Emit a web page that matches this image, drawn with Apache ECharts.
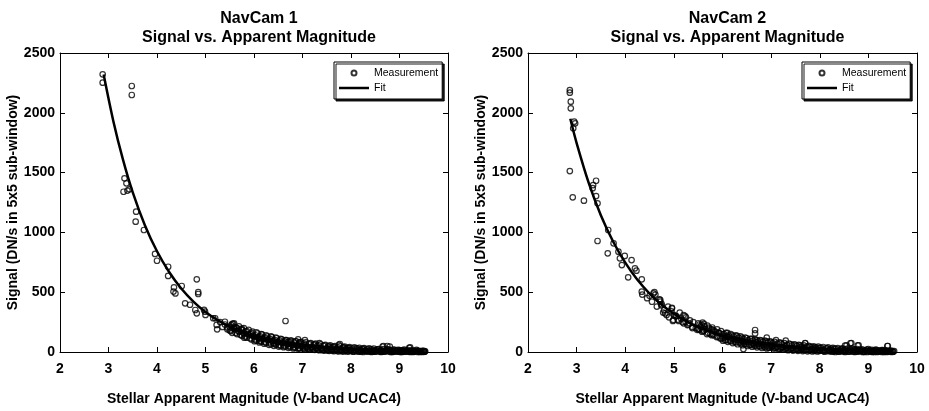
<!DOCTYPE html>
<html><head><meta charset="utf-8">
<script src="https://cdn.jsdelivr.net/npm/echarts@6/dist/echarts.min.js"></script>
<style>html,body{margin:0;padding:0;background:#fff}#c{width:929px;height:411px}</style>
</head><body><div id="c"></div>
<script>
const titles = ['NavCam 1', 'NavCam 2'];
const subtitle = 'Signal vs. Apparent Magnitude';
const xName = 'Stellar Apparent Magnitude (V-band UCAC4)';
const yName = 'Signal (DN/s in 5x5 sub-window)';
const xTicks = [2, 3, 4, 5, 6, 7, 8, 9, 10];
const yTicks = [0, 500, 1000, 1500, 2000, 2500];

// NavCam 1 fit curve
const fit1 = [[2.9,2320],[3.1,1930],[3.3,1606],[3.5,1335],[3.75,1060],[4.0,842],[4.25,669],[4.5,531],[4.75,422],[5.0,335],[5.25,267],[5.5,212],[5.75,168],[6.0,133],[6.25,106],[6.5,84],[6.75,67],[7.0,53],[7.5,33],[8.0,21],[8.5,13],[9.0,8.4],[9.5,5.3]];
// NavCam 2 fit curve
const fit2 = [[2.87,1950],[3.0,1747],[3.25,1412],[3.5,1142],[3.75,924],[4.0,747],[4.25,604],[4.5,489],[4.75,395],[5.0,320],[5.25,259],[5.5,209],[5.75,170],[6.0,137],[6.25,111],[6.5,90],[6.75,72],[7.0,58],[7.5,38],[8.0,25],[8.5,16.4],[9.0,10.7],[9.5,7]];

// NavCam 1 measurements
const meas1 = [
[2.88,2322],[2.88,2252],[3.48,2224],[3.48,2149],[3.33,1452],[3.37,1410],[3.31,1340],[3.39,1350],[3.43,1360],
[3.57,1173],[3.56,1090],[3.73,1020],[3.96,820],[4.0,763],[4.23,713],[4.23,636],[4.35,541],[4.34,505],[4.38,490],
[4.51,552],[4.82,608],[4.85,485],[4.85,500],[4.58,407],[4.68,395],[4.79,351],[4.82,323],[4.97,352],[5.0,310],
[4.99,337],[5.16,282],[5.2,282],[5.23,226],[5.24,190],[5.4,253],[5.45,205],[5.57,236],[5.6,210],[5.75,195],
[6.65,259],[6.91,106],[7.77,67],[8.67,50],[8.75,50],[9.22,39],
[5.3,250],[5.35,210],[5.4,230],[5.45,190],[5.5,210],[5.52,175],[5.55,235],[5.6,190],[5.62,160],[5.65,200],
[5.7,170],[5.72,145],[5.75,185],[5.8,150],[5.82,130],[5.85,175],[5.9,140],[5.92,115],[5.95,160],[6.0,130],
[6.02,105],[6.05,165],[6.1,125],[6.12,95],[6.15,150],[6.2,115],[6.22,85],[6.25,140],[6.3,105],[6.32,80],
[6.35,130],[6.4,95],[6.42,70],[6.45,120],[6.5,85],[6.52,60],[6.55,110],[6.6,80],[6.62,55],[6.65,100],
[6.7,70],[6.72,50],[6.75,95],[6.8,60],[6.82,40],[6.85,90],[6.9,55],[6.92,35],[6.95,80],[7.0,50],
[7.02,30],[7.05,100],[7.1,45],[7.12,25],[7.15,70],[7.2,40],[7.22,20],[7.25,65],[7.3,35],[7.32,18],
[7.35,75],[7.4,30],[7.42,15],[7.45,55],[7.5,30],[7.52,12],[7.55,50],[7.6,25],[7.62,10],[7.65,45],
[7.7,25],[7.72,8],[7.75,60],[7.8,20],[7.82,6],[7.85,40],[7.9,18],[7.92,5],[7.95,35],[8.0,15],
[8.05,4],[8.1,30],[8.15,12],[8.2,3],[8.25,28],[8.3,10],[8.35,2],[8.4,25],[8.45,8],[8.5,2],
[8.55,22],[8.6,8],[8.65,45],[8.7,5],[8.75,20],[8.8,45],[8.85,6],[8.9,18],[8.95,4],[9.0,15],
[9.05,5],[9.1,20],[9.15,4],[9.2,35],[9.25,12],[9.3,3],[9.35,18],[9.4,8],[9.45,2],[9.5,10],[9.52,4],
[5.5,180],[5.8,120],[6.1,110],[6.4,75],[6.7,85],[7.0,65],[7.3,50],[7.6,40],[7.9,30],[8.2,20],[8.5,14],[8.8,10],[9.1,8],[9.4,6],[9.5,3],
[5.55,160],[5.65,150],[5.75,135],[5.85,120],[5.95,105],[6.05,95],[6.15,85],[6.25,75],[6.35,65],[6.45,60],
[6.55,50],[6.65,45],[6.75,40],[6.85,35],[6.95,30],[7.05,25],[7.15,22],[7.25,18],[7.35,15],[7.45,12],
[7.55,10],[7.65,8],[7.75,6],[7.85,5],[7.95,4],[8.05,3],[8.15,2],
[5.58,200],[5.68,175],[5.78,160],[5.88,150],[5.98,135],[6.08,120],[6.18,110],[6.28,100],[6.38,90],[6.48,80],
[6.58,75],[6.68,65],[6.78,60],[6.88,55],[6.98,48],[7.08,42],[7.18,38],[7.28,34],[7.38,30],[7.48,27],
[7.58,24],[7.68,21],[7.78,18],[7.88,16],[7.98,14],[8.08,12],[8.18,11],[8.28,10],[8.38,9],[8.48,8],
[8.58,6],[8.68,5],[8.78,4],[8.88,3],[8.98,2],[9.08,2],[9.18,2],[9.28,1],[9.38,1],[9.48,1],
[8.25,1],[8.45,3],[8.65,2],[8.85,1],[9.05,1],[9.25,3],[9.45,4],[8.42,0],[8.62,0],[8.82,0],[9.02,0],[9.22,0],[9.42,0],
[5.53,225],[5.59,240],[5.63,205],[5.69,215],[5.73,190],[5.79,200],[5.83,170],[5.89,185],[5.93,150],[5.97,170],
[6.03,140],[6.07,155],[6.13,130],[6.17,145],[6.23,120],[6.27,130],[6.33,110],[6.37,125],[6.43,100],[6.47,115],
[6.53,95],[6.57,105],[6.63,90],[6.67,100],[6.73,85],[6.77,95],[6.83,80],[6.87,90],[6.93,75],[6.97,85],
[7.03,70],[7.07,80],[7.13,65],[7.17,75],[7.23,60],[7.27,70],[7.33,55],[7.37,65],[7.43,50],[7.47,60],
[7.53,45],[7.57,55],[7.63,42],[7.67,50],[7.73,38],[7.77,48],[7.83,35],[7.87,45],[7.93,32],[7.97,40],
[8.03,30],[8.07,38],[8.13,28],[8.17,35],[8.23,25],[8.27,32],[8.33,22],[8.37,30],[8.43,20],[8.47,28],
[8.53,18],[8.57,25],[8.63,16],[8.67,24],[8.73,15],[8.77,22],[8.83,14],[8.87,20],[8.93,12],[8.97,18],
[9.03,11],[9.07,16],[9.13,10],[9.17,15],[9.23,9],[9.27,14],[9.33,8],[9.37,12],[9.43,7],[9.47,10],[9.53,6],
[6.01,90],[6.11,80],[6.21,70],[6.31,60],[6.41,52],[6.51,45],[6.61,40],[6.71,35],[6.81,30],[6.91,27],
[7.01,38],[7.11,33],[7.21,29],[7.31,25],[7.41,22],[7.51,20],[7.61,17],[7.71,15],[7.81,13],[7.91,11],
[8.01,10],[8.11,9],[8.21,7],[8.31,6],[8.41,5],[8.51,4],[8.61,3],[8.71,7],[8.81,6],[8.91,5],
[9.01,4],[9.11,3],[9.21,6],[9.31,5],[9.41,3],[9.51,2]
];

// NavCam 2 measurements
const meas2 = [
[2.86,2190],[2.86,2168],[2.88,2093],[2.88,2037],[2.95,1926],[2.97,1912],[2.93,1870],[2.86,1513],[2.92,1293],
[3.15,1265],[3.4,1432],[3.34,1396],[3.4,1304],[3.43,1243],[3.33,1370],[3.43,928],[3.64,825],[3.65,1020],
[3.76,909],[3.86,839],[3.89,783],[3.99,803],[3.93,727],[4.13,769],[4.2,700],[4.23,680],[4.06,624],[4.34,608],
[4.34,504],[4.35,480],[4.58,490],[4.72,421],[4.74,390],[4.82,323],[4.96,370],[4.99,268],[5.03,300],[5.2,309],
[5.24,250],[5.32,240],[5.57,226],[5.62,180],[4.72,435],[4.96,365],[5.23,301],[5.78,190],[6.67,184],[6.67,155],
[6.91,120],[7.7,73],[8.52,53],[8.63,73],[8.78,55],[9.39,50],[6.43,25],
[4.45,450],[4.5,470],[4.55,420],[4.6,500],[4.62,480],[4.65,380],[4.7,440],[4.75,400],[4.78,330],[4.8,350],
[4.85,310],[4.88,380],[4.9,290],[4.95,340],[4.98,260],[5.0,310],
[5.05,300],[5.1,260],[5.12,330],[5.15,280],[5.2,240],[5.25,290],[5.3,230],[5.33,265],[5.38,210],[5.4,250],
[5.45,200],[5.5,240],[5.52,185],[5.55,215],[5.6,175],[5.62,235],[5.65,190],[5.7,160],[5.72,205],[5.75,150],
[5.8,185],[5.82,140],[5.85,170],[5.9,130],[5.92,160],[5.95,115],[6.0,150],[6.02,120],[6.05,100],[6.1,160],
[6.12,125],[6.15,95],[6.2,140],[6.22,110],[6.25,85],[6.3,135],[6.32,100],[6.35,80],[6.4,120],[6.42,90],
[6.45,70],[6.5,115],[6.52,85],[6.55,60],[6.6,110],[6.62,75],[6.65,55],[6.7,100],[6.72,70],[6.75,50],
[6.8,95],[6.82,65],[6.85,45],[6.9,90],[6.92,55],[6.95,35],[7.0,85],[7.02,50],[7.05,30],[7.1,100],
[7.12,45],[7.15,25],[7.2,75],[7.22,40],[7.25,20],[7.3,95],[7.32,35],[7.35,15],[7.4,65],[7.42,30],
[7.45,12],[7.5,60],[7.52,28],[7.55,10],[7.6,55],[7.62,25],[7.65,8],[7.7,75],[7.72,22],[7.75,6],
[7.8,45],[7.82,20],[7.85,5],[7.9,40],[7.92,18],[7.95,4],[8.0,35],[8.05,15],[8.1,3],[8.15,30],
[8.2,12],[8.25,2],[8.3,28],[8.35,10],[8.4,2],[8.45,25],[8.5,8],[8.55,55],[8.6,6],[8.65,75],
[8.7,20],[8.75,4],[8.8,55],[8.85,15],[8.9,3],[8.95,12],[9.0,25],[9.05,3],[9.1,10],[9.15,20],
[9.2,2],[9.25,8],[9.3,15],[9.35,2],[9.4,50],[9.45,6],[9.5,2],
[5.5,195],[5.8,150],[6.1,130],[6.4,95],[6.7,80],[7.0,60],[7.3,48],[7.6,38],[7.9,28],[8.2,20],[8.5,15],[8.8,11],[9.1,8],[9.4,6],
[5.08,270],[5.18,250],[5.28,225],[5.38,200],[5.48,185],[5.58,170],[5.68,150],[5.78,140],[5.88,125],[5.98,110],
[6.08,100],[6.18,90],[6.28,80],[6.38,72],[6.48,65],[6.58,58],[6.68,52],[6.78,46],[6.88,40],[6.98,36],
[7.08,32],[7.18,28],[7.28,25],[7.38,22],[7.48,19],[7.58,17],[7.68,15],[7.78,13],[7.88,11],[7.98,9],
[8.08,8],[8.18,7],[8.28,6],[8.38,5],[8.48,4],[8.58,3],[8.68,2],[8.78,2],[8.88,1],[8.98,1],[9.08,1],[9.18,1],[9.28,0],[9.38,0],[9.48,0],
[6.04,130],[6.24,105],[6.44,85],[6.64,70],[6.84,60],[7.04,50],[7.24,42],[7.44,35],[7.64,30],[7.84,25],
[8.04,20],[8.24,16],[8.44,13],[8.64,11],[8.84,9],[9.04,7],[9.24,5],[9.44,4],[8.32,0],[8.52,0],[8.72,0],[8.92,0],[9.12,0],[9.32,0],
[5.53,230],[5.59,245],[5.63,215],[5.69,220],[5.73,195],[5.79,205],[5.83,175],[5.89,190],[5.93,160],[5.97,175],
[6.03,150],[6.07,160],[6.13,140],[6.17,150],[6.23,130],[6.27,140],[6.33,120],[6.37,130],[6.43,110],[6.47,120],
[6.53,100],[6.57,110],[6.63,95],[6.67,105],[6.73,90],[6.77,100],[6.83,85],[6.87,95],[6.93,80],[6.97,90],
[7.03,75],[7.07,85],[7.13,70],[7.17,80],[7.23,65],[7.27,75],[7.33,60],[7.37,70],[7.43,55],[7.47,65],
[7.53,50],[7.57,60],[7.63,47],[7.67,55],[7.73,43],[7.77,52],[7.83,40],[7.87,48],[7.93,37],[7.97,45],
[8.03,34],[8.07,42],[8.13,31],[8.17,38],[8.23,28],[8.27,35],[8.33,26],[8.37,32],[8.43,24],[8.47,30],
[8.53,22],[8.57,28],[8.63,20],[8.67,26],[8.73,18],[8.77,24],[8.83,16],[8.87,22],[8.93,14],[8.97,20],
[9.03,13],[9.07,18],[9.13,12],[9.17,16],[9.23,11],[9.27,15],[9.33,10],[9.37,13],[9.43,9],[9.47,12],[9.53,8],
[6.01,95],[6.11,85],[6.21,75],[6.31,65],[6.41,57],[6.51,50],[6.61,44],[6.71,39],[6.81,34],[6.91,30],
[7.01,42],[7.11,37],[7.21,33],[7.31,29],[7.41,26],[7.51,23],[7.61,20],[7.71,18],[7.81,16],[7.91,14],
[8.01,12],[8.11,11],[8.21,9],[8.31,8],[8.41,7],[8.51,6],[8.61,5],[8.71,9],[8.81,8],[8.91,7],
[9.01,6],[9.11,5],[9.21,8],[9.31,7],[9.41,5],[9.51,3]
];

const FONT = '"Liberation Sans", Arial, Helvetica, sans-serif';
const grids = [
  {left: 60, right: 481, top: 53, bottom: 59},
  {left: 528, right: 12, top: 53, bottom: 59}
];
const centers = [254, 722.5];
const measData = [meas1, meas2];
const fitData = [fit1, fit2];
const legendLeft = [334, 802];

const option = {
  backgroundColor: '#fff',
  animation: false,
  textStyle: {fontFamily: FONT, color: '#000'},
  title: [],
  legend: [],
  grid: grids,
  xAxis: [],
  yAxis: [],
  series: []
};

for (let i = 0; i < 2; i++) {
  option.title.push({
    text: titles[i] + '\n' + subtitle,
    left: centers[i], top: 4, textAlign: 'center',
    textStyle: {fontFamily: FONT, fontSize: 16, fontWeight: 'bold', color: '#000', lineHeight: 19}
  });
  option.legend.push({
    left: legendLeft[i], top: 62, orient: 'vertical',
    data: [
      {name: 'Measurement', icon: 'circle'},
      {name: 'Fit', icon: 'path://M0,0L60,0L60,5L0,5Z'}
    ],
    itemWidth: 30, itemHeight: 5, itemGap: 3,
    padding: [5, 4, 5, 5],
    backgroundColor: '#fff', borderColor: '#000', borderWidth: 1,
    shadowColor: 'rgba(0,0,0,0.9)', shadowOffsetX: 2, shadowOffsetY: 2, shadowBlur: 0,
    selectedMode: false,
    textStyle: {fontFamily: FONT, fontSize: 10.5, color: '#000', lineHeight: 12}
  });
  const axisCommon = {
    gridIndex: i, type: 'value',
    axisLine: {show: true, onZero: false, lineStyle: {color: '#000', width: 1}},
    axisTick: {show: true, inside: true, length: 5, lineStyle: {color: '#000'}},
    splitLine: {show: false}
  };
  option.xAxis.push(Object.assign({}, axisCommon, {
    position: 'bottom', min: xTicks[0], max: xTicks[xTicks.length - 1], interval: 1,
    axisLabel: {fontFamily: FONT, fontSize: 14, fontWeight: 'bold', color: '#000', margin: 10},
    name: xName, nameLocation: 'middle', nameGap: 40,
    nameTextStyle: {fontFamily: FONT, fontSize: 14, fontWeight: 'bold', color: '#000'}
  }));
  option.xAxis.push(Object.assign({}, axisCommon, {
    position: 'top', min: xTicks[0], max: xTicks[xTicks.length - 1], interval: 1,
    axisLabel: {show: false}
  }));
  option.yAxis.push(Object.assign({}, axisCommon, {
    position: 'left', min: yTicks[0], max: yTicks[yTicks.length - 1], interval: 500,
    axisLabel: {fontFamily: FONT, fontSize: 14, fontWeight: 'bold', color: '#000', margin: 5,
      formatter: function (v) { return String(v); }},
    name: yName, nameLocation: 'middle', nameGap: 35,
    nameTextStyle: {fontFamily: FONT, fontSize: 14, fontWeight: 'bold', color: '#000'}
  }));
  option.yAxis.push(Object.assign({}, axisCommon, {
    position: 'right', min: yTicks[0], max: yTicks[yTicks.length - 1], interval: 500,
    axisLabel: {show: false}
  }));
  option.series.push({
    name: 'Measurement', type: 'scatter',
    xAxisIndex: i * 2, yAxisIndex: i * 2,
    data: measData[i], symbol: 'circle', symbolSize: 5.5,
    itemStyle: {color: 'rgba(255,255,255,0)', borderColor: '#000', borderWidth: 1.2}
  });
  option.series.push({
    name: 'Fit', type: 'line',
    xAxisIndex: i * 2, yAxisIndex: i * 2,
    data: fitData[i], showSymbol: false, symbol: 'none', smooth: 0.3,
    lineStyle: {color: '#000', width: 2.5},
    itemStyle: {color: '#000'}, z: 3
  });
}

const chart = echarts.init(document.getElementById('c'), null, {renderer: 'canvas'});
chart.setOption(option);
</script>
</body></html>
